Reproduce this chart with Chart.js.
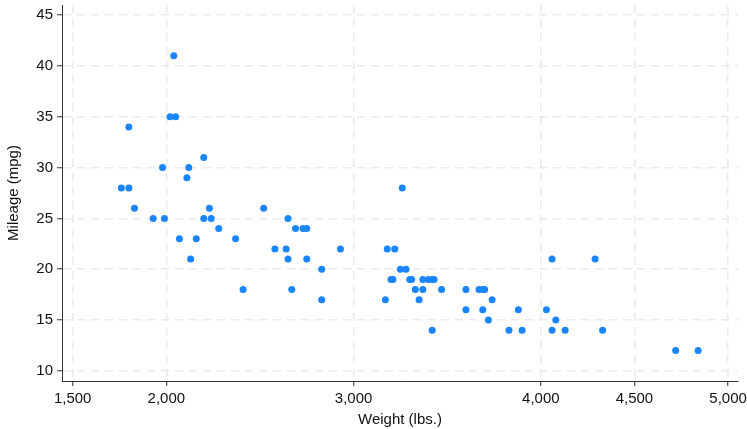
<!DOCTYPE html>
<html>
<head>
<meta charset="utf-8">
<script src="https://cdn.jsdelivr.net/npm/chart.js@4/dist/chart.umd.min.js"></script>
<style>
  html, body { margin: 0; padding: 0; background: #ffffff; }
  #wrap { width: 747px; height: 429px; position: relative; }
</style>
</head>
<body>
<div id="wrap"><canvas id="c"></canvas></div>
<script>
// Weight (lbs.) of each car
const weight = [2930, 3350, 2640, 3250, 4080, 3670, 2230, 3280, 3880, 3400,
  4330, 3900, 4290, 2110, 3690, 3180, 3220, 2750, 3430, 2120,
  3600, 3600, 3740, 1800, 2650, 4840, 4720, 3830, 2580, 4060,
  3720, 3370, 4130, 2830, 4060, 3310, 3300, 3690, 3370, 2730,
  4030, 3260, 1800, 2200, 2520, 3330, 3700, 3470, 3210, 3200,
  3420, 2690, 2830, 2070, 2650, 2370, 2020, 2280, 2750, 2130,
  2240, 1760, 1980, 3420, 1830, 2050, 2410, 2200, 2670, 2160,
  2040, 1930, 1990, 3170];
// Mileage (mpg) of each car
const mpg = [22, 17, 22, 20, 15, 18, 26, 20, 16, 19,
  14, 14, 21, 29, 16, 22, 22, 24, 19, 30,
  18, 16, 17, 28, 21, 12, 12, 14, 22, 14,
  15, 18, 14, 20, 21, 19, 19, 18, 19, 24,
  16, 28, 34, 25, 26, 18, 18, 18, 19, 19,
  19, 24, 17, 23, 25, 23, 35, 24, 21, 21,
  25, 28, 30, 14, 26, 35, 18, 31, 18, 23,
  41, 25, 25, 17];
const xTicks = [1500, 2000, 3000, 4000, 4500, 5000];
const yTicks = [10, 15, 20, 25, 30, 35, 40, 45];

const points = weight.map((w, i) => ({ x: w, y: mpg[i] }));
const FONT = "'Liberation Sans', Arial, sans-serif";
const fmt = v => Number(v).toLocaleString('en-US');

new Chart(document.getElementById('c'), {
  type: 'scatter',
  data: {
    datasets: [{
      data: points,
      backgroundColor: '#1a85ff',
      borderWidth: 0,
      pointRadius: 3.5,
      pointHoverRadius: 3.5
    }]
  },
  options: {
    responsive: true,
    maintainAspectRatio: false,
    animation: false,
    events: [],
    layout: { padding: { top: 5, right: 9, left: 0, bottom: 0 } },
    plugins: { legend: { display: false }, tooltip: { enabled: false } },
    scales: {
      x: {
        type: 'linear',
        min: 1443, max: 5053,
        afterBuildTicks: s => { s.ticks = xTicks.map(v => ({ value: v })); },
        afterFit: s => { s.height = 48; s.paddingLeft = 0; s.paddingRight = 0; },
        grid: { color: '#eaeaea', lineWidth: 1.5, drawTicks: true, tickLength: 5, tickColor: '#333333', tickWidth: 1 },
        border: { display: true, color: '#333333', width: 1, dash: [8, 6] },
        ticks: { color: '#111111', font: { family: FONT, size: 15 }, padding: 4, maxRotation: 0, autoSkip: false, callback: v => fmt(v) },
        title: { display: true, text: 'Weight (lbs.)', color: '#111111', font: { family: FONT, size: 15 }, padding: { top: 4, bottom: 0 } }
      },
      y: {
        type: 'linear',
        min: 9, max: 46,
        afterBuildTicks: s => { s.ticks = yTicks.map(v => ({ value: v })); },
        afterFit: s => { s.width = 62; s.paddingTop = 0; s.paddingBottom = 0; },
        grid: { color: '#eaeaea', lineWidth: 1.5, drawTicks: true, tickLength: 5, tickColor: '#333333', tickWidth: 1 },
        border: { display: true, color: '#333333', width: 1, dash: [8, 6] },
        ticks: { color: '#111111', font: { family: FONT, size: 15 }, padding: 4, autoSkip: false, callback: v => fmt(v) },
        title: { display: true, text: 'Mileage (mpg)', color: '#111111', font: { family: FONT, size: 15 }, padding: { top: 5, bottom: 0 } }
      }
    }
  }
});
</script>
</body>
</html>
